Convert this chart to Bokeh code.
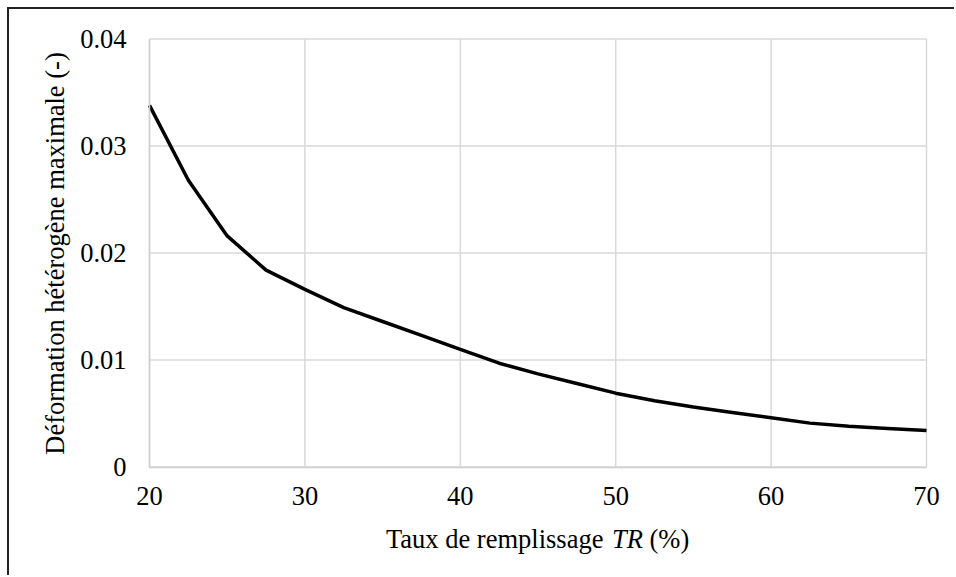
import math
from bokeh.plotting import figure
from bokeh.models import Label, FixedTicker, Range1d
from bokeh.embed import file_html
from bokeh.resources import INLINE

# Data
tr = [20, 22.5, 25, 27.5, 30, 32.5, 35, 37.5, 40, 42.5, 45, 47.5, 50,
      52.5, 55, 57.5, 60, 62.5, 65, 67.5, 70]
deform = [0.0338, 0.0268, 0.0216, 0.0184, 0.0166, 0.0149, 0.0136, 0.0123,
          0.0110, 0.0097, 0.0087, 0.0078, 0.0069, 0.0062, 0.0056, 0.0051,
          0.0046, 0.0041, 0.0038, 0.0036, 0.0034]

x_ticks = [20, 30, 40, 50, 60, 70]
y_ticks = [0, 0.01, 0.02, 0.03, 0.04]
y_tick_labels = {0: "0", 0.01: "0.01", 0.02: "0.02", 0.03: "0.03", 0.04: "0.04"}

x_title_a = "Taux de remplissage"
x_title_b = "TR"
x_title_c = "(%)"
y_title = "Déformation hétérogène maximale (-)"

FONT = "Liberation Serif"
FS = "26.5px"

# canvas layout (pixels)
W, H = 947, 568
PL, PR = 140, 917      # plot area left/right in canvas px
PT, PB = 29.5, 457.5   # plot area top/bottom in canvas px

xmin, xmax = x_ticks[0], x_ticks[-1]
ymin, ymax = y_ticks[0], y_ticks[-1]
sx = (PR - PL) / (xmax - xmin)
sy = (PB - PT) / (ymax - ymin)
x_range = Range1d(xmin - PL / sx, xmax + (W - PR) / sx)
y_range = Range1d(ymin - (H - PB) / sy, ymax + PT / sy)

p = figure(width=W, height=H, output_backend="svg", toolbar_location=None,
           x_range=x_range, y_range=y_range,
           min_border=0, min_border_left=0, min_border_right=0,
           min_border_top=0, min_border_bottom=0)
p.styles = {"margin-left": "7px", "margin-top": "7px",
            "border-left": "2px solid #222222", "border-top": "2px solid #222222"}
p.outline_line_color = None
p.background_fill_color = "white"
p.border_fill_color = "white"
p.grid.visible = False

grid_col = "#d9d9d9"
# vertical and horizontal grid lines, spanning the plot area only
p.segment(x0=x_ticks, y0=[ymin] * len(x_ticks), x1=x_ticks, y1=[ymax] * len(x_ticks),
          line_color=grid_col, line_width=1.5)
p.segment(x0=[xmin] * len(y_ticks), y0=y_ticks, x1=[xmax] * len(y_ticks), y1=y_ticks,
          line_color=grid_col, line_width=1.5)

p.xaxis.ticker = FixedTicker(ticks=x_ticks)
p.yaxis.ticker = FixedTicker(ticks=y_ticks)
p.yaxis.major_label_overrides = y_tick_labels
p.xaxis.fixed_location = ymin
p.yaxis.fixed_location = xmin
p.xaxis.bounds = (xmin, xmax)
p.yaxis.bounds = (ymin, ymax)

for ax in (p.xaxis[0], p.yaxis[0]):
    ax.axis_line_color = "#cfcfcf"
    ax.axis_line_width = 1.5
    ax.major_tick_line_color = None
    ax.minor_tick_line_color = None
    ax.major_tick_out = 0
    ax.major_tick_in = 0
    ax.major_label_text_font = FONT
    ax.major_label_text_font_size = FS
    ax.major_label_text_color = "black"
p.xaxis.major_label_standoff = 20
p.yaxis.major_label_standoff = 23

p.line(tr, deform, line_color="black", line_width=3.5)

# Axis titles (x title contains an italic part)
base_y = 38.5
x0 = 376.5
em = 26.5
w_a = 8.276 * em
sp = 0.25 * em
w_b = 1.167 * em
common = dict(x_units="screen", y_units="screen", text_font=FONT, text_font_size=FS,
              text_baseline="alphabetic", text_color="black")
p.add_layout(Label(x=x0, y=base_y, text=x_title_a, text_align="left", **common))
p.add_layout(Label(x=x0 + w_a + sp, y=base_y, text=x_title_b, text_align="left",
                   text_font_style="italic", **common))
p.add_layout(Label(x=x0 + w_a + sp + w_b + sp, y=base_y, text=x_title_c,
                   text_align="left", **common))
p.add_layout(Label(x=45, y=324, text=y_title, text_align="center", angle=math.pi / 2,
                   **common))

open("out.html", "w").write(file_html(p, INLINE))
